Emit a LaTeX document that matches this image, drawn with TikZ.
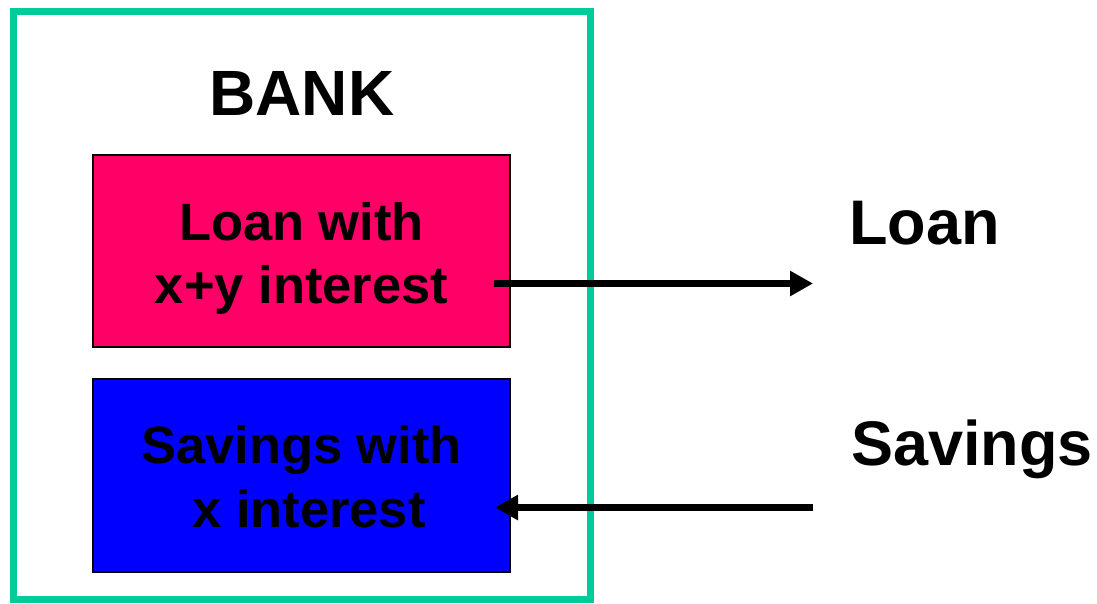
\documentclass[tikz,border=0pt]{standalone}
\usepackage{fontspec}
\setmainfont{Liberation Sans}
\usetikzlibrary{arrows.meta}
\definecolor{bankgreen}{RGB}{0,204,153}
\definecolor{loanpink}{RGB}{255,0,102}
\definecolor{savblue}{RGB}{0,0,255}
\tikzset{
  box/.style={draw=black,line width=2pt},
  boxtext/.style={inner sep=0pt,anchor=base,align=center,font=\bfseries\fontsize{52.5}{63.5}\selectfont},
  biglabel/.style={inner sep=0pt,anchor=base west,font=\bfseries\fontsize{63}{76}\selectfont},
  flow/.style={line width=7pt,-{Triangle[length=23pt,width=24pt]}}
}
\begin{document}
\begin{tikzpicture}[x=1pt,y=-1pt]
\useasboundingbox (0,0) rectangle (1097,603);
\draw[bankgreen,line width=7pt] (13.5,11) rectangle (590,599.5);
\node[inner sep=0pt,anchor=base,font=\bfseries\fontsize{64}{77}\selectfont] (bank) at (302,115) {BANK};
\draw[box,fill=loanpink] (93,154.5) rectangle (510,347);
\draw[box,fill=savblue] (93,379) rectangle (510,571.5);
\node[boxtext] (loantxt) at (301.5,303.5) {Loan with\\x+y interest};
\node[boxtext] (savtxt) at (301.5,527) {Savings with\\\hspace*{15pt}x interest};
\node[biglabel] (loan) at (849,244) {Loan};
\node[biglabel] (savings) at (851,465) {Savings};
\coordinate (ls) at (494,283.5);
\coordinate (le) at (813,283.5);
\coordinate (ss) at (813,507.5);
\coordinate (se) at (495,507.5);
\draw[flow] (ls) -- (le);
\draw[flow] (ss) -- (se);
\end{tikzpicture}
\end{document}
